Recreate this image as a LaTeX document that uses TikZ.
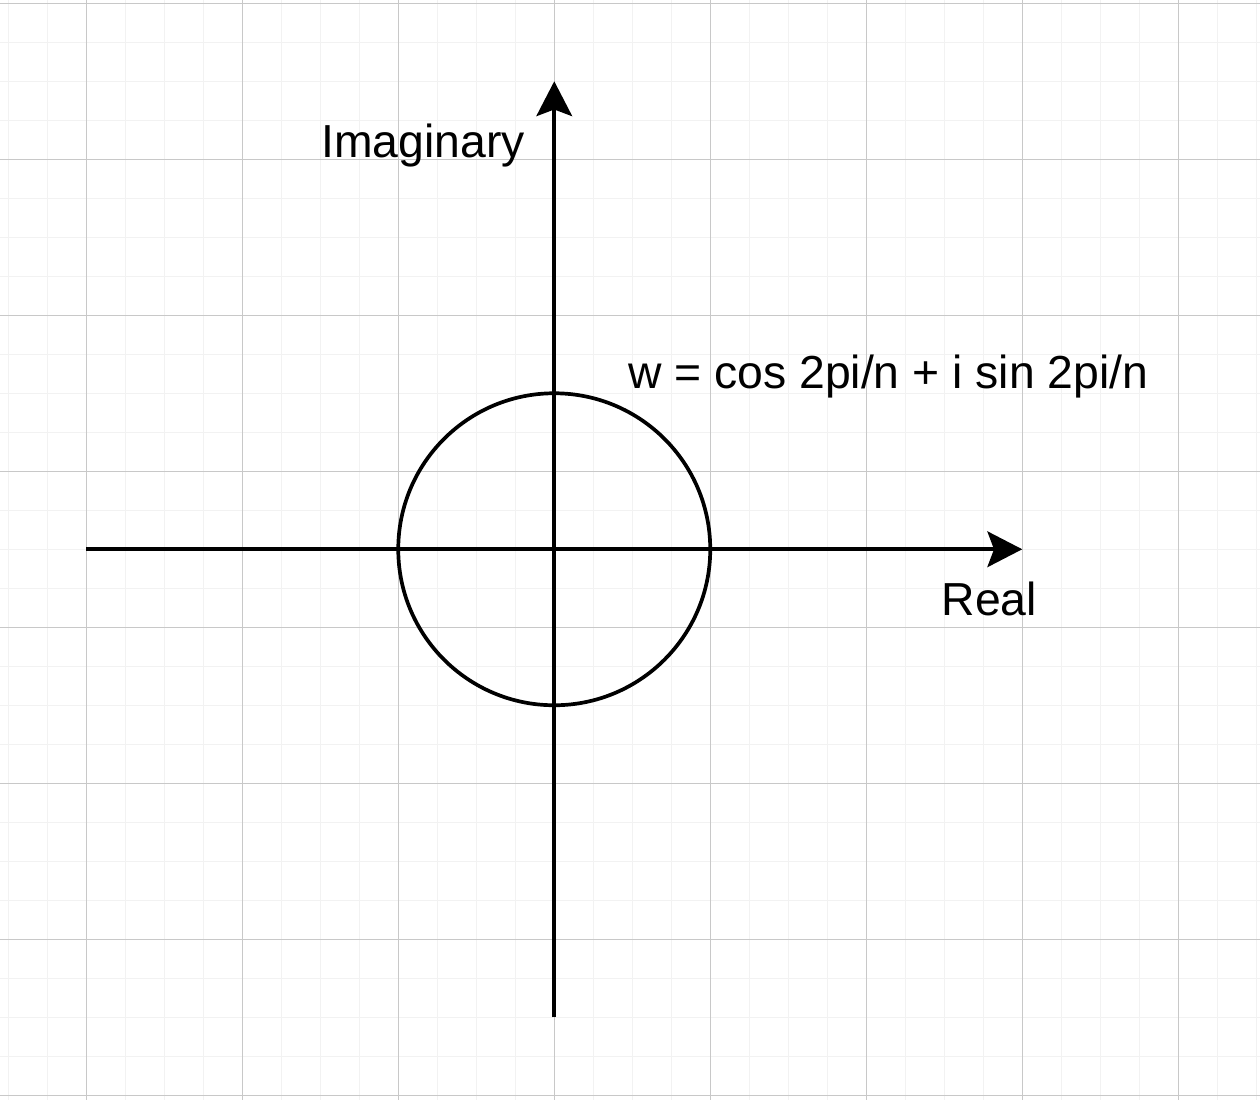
\documentclass[tikz,border=0pt]{standalone}
\usepackage{fontspec}
\setmainfont{Liberation Sans}
\usetikzlibrary{arrows.meta}

\definecolor{minorgrid}{HTML}{F2F2F2}
\definecolor{majorgrid}{HTML}{C8C8C8}

\begin{document}
\begin{tikzpicture}[x=2cm, y=2cm,
    axis/.style={line width=1.35pt, -{Stealth[length=12.7pt, width=13pt, inset=2.4pt]}},
    lbl/.style={anchor=base west, inner sep=0pt, font=\fontsize{16.9pt}{20pt}\selectfont}]
  \useasboundingbox[fill=white] (-3.553,-3.530) rectangle (4.524,3.521);
  \clip (-3.553,-3.530) rectangle (4.524,3.521);
  % background grid
  \draw[minorgrid, line width=0.55pt, step=0.25] (-3.75,-3.75) grid (4.75,3.75);
  \draw[majorgrid, line width=0.4pt, shift={(0,0.5)}, step=1] (-4,-4.5) grid (5,3.5);
  \coordinate (O) at (0,0);
  \coordinate (W) at (-3,0);
  \coordinate (E) at (3,0);
  \coordinate (S) at (0,-3);
  \coordinate (N) at (0,3);
  % axes and unit circle
  \draw[axis] (W) -- (E);
  \draw[axis] (S) -- (N);
  \draw[line width=1.35pt] (O) circle (1);
  \node[lbl] (imlabel) at (-1.497,2.510) {Imaginary};
  \node[lbl] (relabel) at (2.480,-0.426) {Real};
  \node[lbl] (wlabel) at (0.470,1.032) {w = cos 2pi/n + i sin 2pi/n};
\end{tikzpicture}
\end{document}
